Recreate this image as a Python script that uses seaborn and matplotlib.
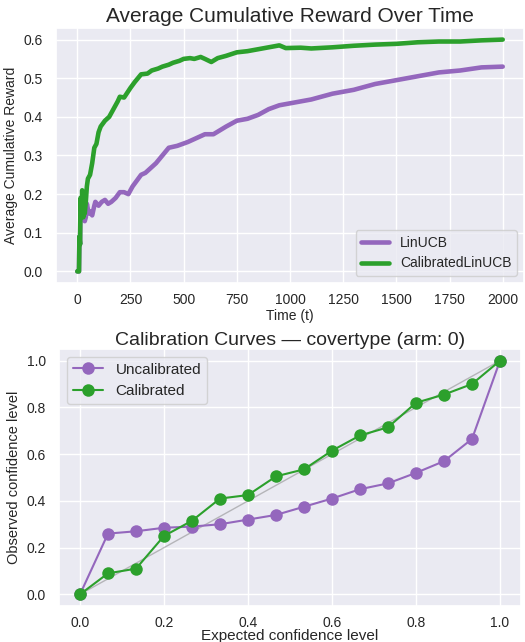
import numpy as np
import pandas as pd
import matplotlib
matplotlib.use("Agg")
import matplotlib.pyplot as plt
import seaborn as sns

# reward curves (t, avg cumulative reward)
t_cal = [0, 8, 10, 13, 15, 18, 20, 23, 25, 28, 30, 35, 40, 45, 50, 60, 70, 80, 90, 100, 110,
         130, 150, 170, 190, 200, 220, 250, 270, 300, 330, 350, 380, 400, 430, 450, 480, 500,
         530, 550, 580, 600, 630, 660, 700, 750, 800, 850, 900, 950, 980, 1050, 1100, 1200,
         1250, 1300, 1400, 1500, 1600, 1700, 1800, 1900, 2000]
r_cal = [0.0, 0.0, 0.09, 0.07, 0.19, 0.16, 0.15, 0.21, 0.18, 0.14, 0.19, 0.15, 0.18, 0.22, 0.24,
         0.25, 0.28, 0.32, 0.33, 0.36, 0.375, 0.39, 0.40, 0.42, 0.44, 0.452, 0.45, 0.475, 0.49,
         0.51, 0.512, 0.52, 0.525, 0.53, 0.535, 0.54, 0.545, 0.55, 0.552, 0.55, 0.555, 0.55,
         0.542, 0.552, 0.558, 0.567, 0.57, 0.575, 0.58, 0.585, 0.578, 0.579, 0.577, 0.58,
         0.582, 0.584, 0.587, 0.589, 0.593, 0.595, 0.595, 0.598, 0.60]

t_lin = [0, 8, 10, 13, 15, 18, 20, 25, 30, 35, 40, 45, 50, 55, 60, 70, 80, 85, 100, 115, 130,
         145, 160, 180, 200, 220, 240, 260, 280, 300, 320, 340, 370, 400, 430, 470, 520, 560,
         600, 640, 700, 750, 800, 850, 900, 950, 1000, 1100, 1200, 1300, 1400, 1500, 1600,
         1700, 1800, 1900, 2000]
r_lin = [0.0, 0.0, 0.09, 0.07, 0.18, 0.15, 0.14, 0.17, 0.15, 0.13, 0.14, 0.175, 0.16, 0.15,
         0.155, 0.145, 0.17, 0.18, 0.17, 0.18, 0.185, 0.175, 0.18, 0.19, 0.205, 0.205, 0.20,
         0.22, 0.235, 0.25, 0.255, 0.265, 0.28, 0.30, 0.32, 0.325, 0.335, 0.345, 0.355, 0.355,
         0.375, 0.39, 0.395, 0.405, 0.42, 0.43, 0.435, 0.445, 0.46, 0.47, 0.485, 0.495, 0.505,
         0.515, 0.52, 0.528, 0.53]

# calibration curves
expected = [0, 1/15, 2/15, 3/15, 4/15, 5/15, 6/15, 7/15, 8/15, 9/15, 10/15, 11/15, 12/15,
            13/15, 14/15, 1.0]
obs_uncal = [0.0, 0.26, 0.27, 0.285, 0.29, 0.30, 0.32, 0.34, 0.375, 0.41, 0.45, 0.475, 0.52,
             0.57, 0.665, 1.0]
obs_cal = [0.0, 0.09, 0.11, 0.25, 0.315, 0.41, 0.425, 0.505, 0.535, 0.615, 0.68, 0.715, 0.82,
           0.855, 0.90, 1.0]

sns.set_theme(style="darkgrid")
plt.rcParams['font.family'] = ['Liberation Sans', 'DejaVu Sans']
plt.rcParams['xtick.labelsize'] = 10
plt.rcParams['ytick.labelsize'] = 10
plt.rcParams['xtick.major.pad'] = 1.5

purple = "#9467bd"
green = "#2ca02c"

fig = plt.figure(figsize=(5.25, 6.42), dpi=100)
ax1 = fig.add_axes([0.1067, 0.5592, 0.8914, 0.3972])
ax2 = fig.add_axes([0.1124, 0.0560, 0.8800, 0.4004])

# top: average cumulative reward
sns.lineplot(x=t_lin, y=r_lin, ax=ax1, color=purple, linewidth=3.3, label="LinUCB")
sns.lineplot(x=t_cal, y=r_cal, ax=ax1, color=green, linewidth=3.3, label="CalibratedLinUCB")
ax1.set_title("Average Cumulative Reward Over Time", fontsize=15, pad=4)
ax1.set_xlabel("Time (t)", fontsize=10, labelpad=1)
ax1.set_ylabel("Average Cumulative Reward", fontsize=10)
ax1.set_xticks(np.arange(0, 2001, 250))
ax1.legend(loc="lower right", fontsize=10)

# bottom: calibration curves
ax2.plot([0, 1], [0, 1], color="gray", alpha=0.5, linewidth=1)
sns.lineplot(x=expected, y=obs_uncal, ax=ax2, color=purple, marker="o", markersize=9,
             markeredgewidth=0, linewidth=1.5, label="Uncalibrated")
sns.lineplot(x=expected, y=obs_cal, ax=ax2, color=green, marker="o", markersize=9,
             markeredgewidth=0, linewidth=1.5, label="Calibrated")
ax2.set_title("Calibration Curves \u2014 covertype (arm: 0)", fontsize=14, pad=3)
ax2.set_xlabel("Expected confidence level", fontsize=11, labelpad=-1)
ax2.set_ylabel("Observed confidence level", fontsize=10.5)
ax2.legend(loc="upper left", fontsize=11)

fig.savefig("out.png", dpi=100)
